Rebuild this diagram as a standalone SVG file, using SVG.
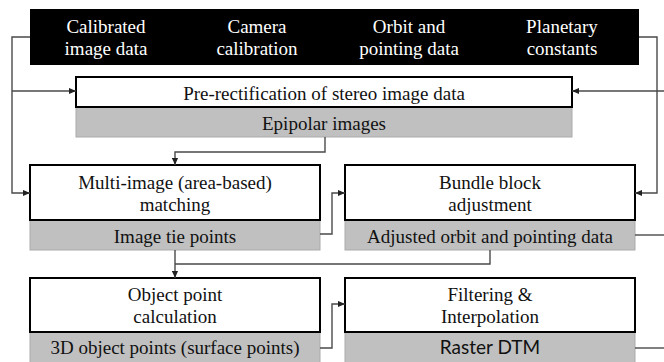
<svg xmlns="http://www.w3.org/2000/svg" width="664" height="362" viewBox="0 0 664 362">
  <defs>
    <marker id="arr" viewBox="0 0 8 8" refX="8" refY="4" markerWidth="7" markerHeight="7" markerUnits="userSpaceOnUse" orient="auto">
      <path d="M0,0.5 L8,4 L0,7.5 Z" fill="#222"/>
    </marker>
  </defs>
  <style>
    .proc { fill: #ffffff; stroke: #000000; stroke-width: 2; }
    .out { fill: #c0c0c0; stroke: #ababab; stroke-width: 1; }
    .t { font-family: 'Liberation Serif', 'Times New Roman', serif; font-size: 19px; fill: #111; text-anchor: middle; }
    .w { fill: #ffffff; }
    .s { font-family: Lato, 'Open Sans', sans-serif; font-size: 19px; fill: #111; text-anchor: middle; }
    .c { fill: none; stroke: #4a4a4a; stroke-width: 1.4; }
    .ca { fill: none; stroke: #4a4a4a; stroke-width: 1.4; marker-end: url(#arr); }
  </style>
  <rect width="664" height="362" fill="#ffffff"/>

  <!-- input data bar -->
  <g id="inputs">
    <rect x="30" y="9" width="609" height="56" fill="#000000"/>
    <text class="t w" x="106" y="33">Calibrated</text>
    <text class="t w" x="106" y="55">image data</text>
    <text class="t w" x="257" y="33">Camera</text>
    <text class="t w" x="257" y="55">calibration</text>
    <text class="t w" x="409" y="33">Orbit and</text>
    <text class="t w" x="409" y="55">pointing data</text>
    <text class="t w" x="562" y="33">Planetary</text>
    <text class="t w" x="562" y="55">constants</text>
  </g>

  <g id="prerectification">
    <rect class="out" x="76" y="107" width="496" height="30"/>
    <rect class="proc" x="76" y="77" width="496" height="30"/>
    <text class="t" x="324" y="100">Pre-rectification of stereo image data</text>
    <text class="t" x="324" y="130">Epipolar images</text>
  </g>

  <g id="matching">
    <rect class="out" x="30" y="220" width="290" height="30"/>
    <rect class="proc" x="30" y="165" width="290" height="55"/>
    <text class="t" x="175" y="189">Multi-image (area-based)</text>
    <text class="t" x="175" y="211">matching</text>
    <text class="t" x="175" y="243">Image tie points</text>
  </g>

  <g id="bundle">
    <rect class="out" x="345" y="220" width="290" height="30"/>
    <rect class="proc" x="345" y="165" width="290" height="55"/>
    <text class="t" x="490" y="189">Bundle block</text>
    <text class="t" x="490" y="211">adjustment</text>
    <text class="t" x="490" y="243">Adjusted orbit and pointing data</text>
  </g>

  <g id="objectpoints">
    <rect class="out" x="30" y="332" width="290" height="34"/>
    <rect class="proc" x="30" y="278" width="290" height="54"/>
    <text class="t" x="175" y="301">Object point</text>
    <text class="t" x="175" y="323">calculation</text>
    <text class="t" x="175" y="354">3D object points (surface points)</text>
  </g>

  <g id="filtering">
    <rect class="out" x="345" y="332" width="290" height="34"/>
    <rect class="proc" x="345" y="278" width="290" height="54"/>
    <text class="t" x="490" y="301">Filtering &amp;</text>
    <text class="t" x="490" y="323">Interpolation</text>
    <text class="s" x="490" y="354">Raster DTM</text>
  </g>

  <g id="connectors">
    <path class="ca" d="M30,37 H12 V193 H30"/>
    <path class="ca" d="M12,91 H76"/>
    <path class="ca" d="M639,37 H657 V193 H635"/>
    <path class="ca" d="M664,91 H572"/>
    <path class="ca" d="M325,137 V152 H175 V165"/>
    <path class="ca" d="M320,234 H332 V193 H345"/>
    <path class="ca" d="M175,250 V278"/>
    <path class="c" d="M490,250 V264 H175"/>
    <path class="ca" d="M320,348 H332 V304 H345"/>
    <path class="c" d="M635,235 H664"/>
    <path class="c" d="M635,348 H664"/>
  </g>
</svg>
